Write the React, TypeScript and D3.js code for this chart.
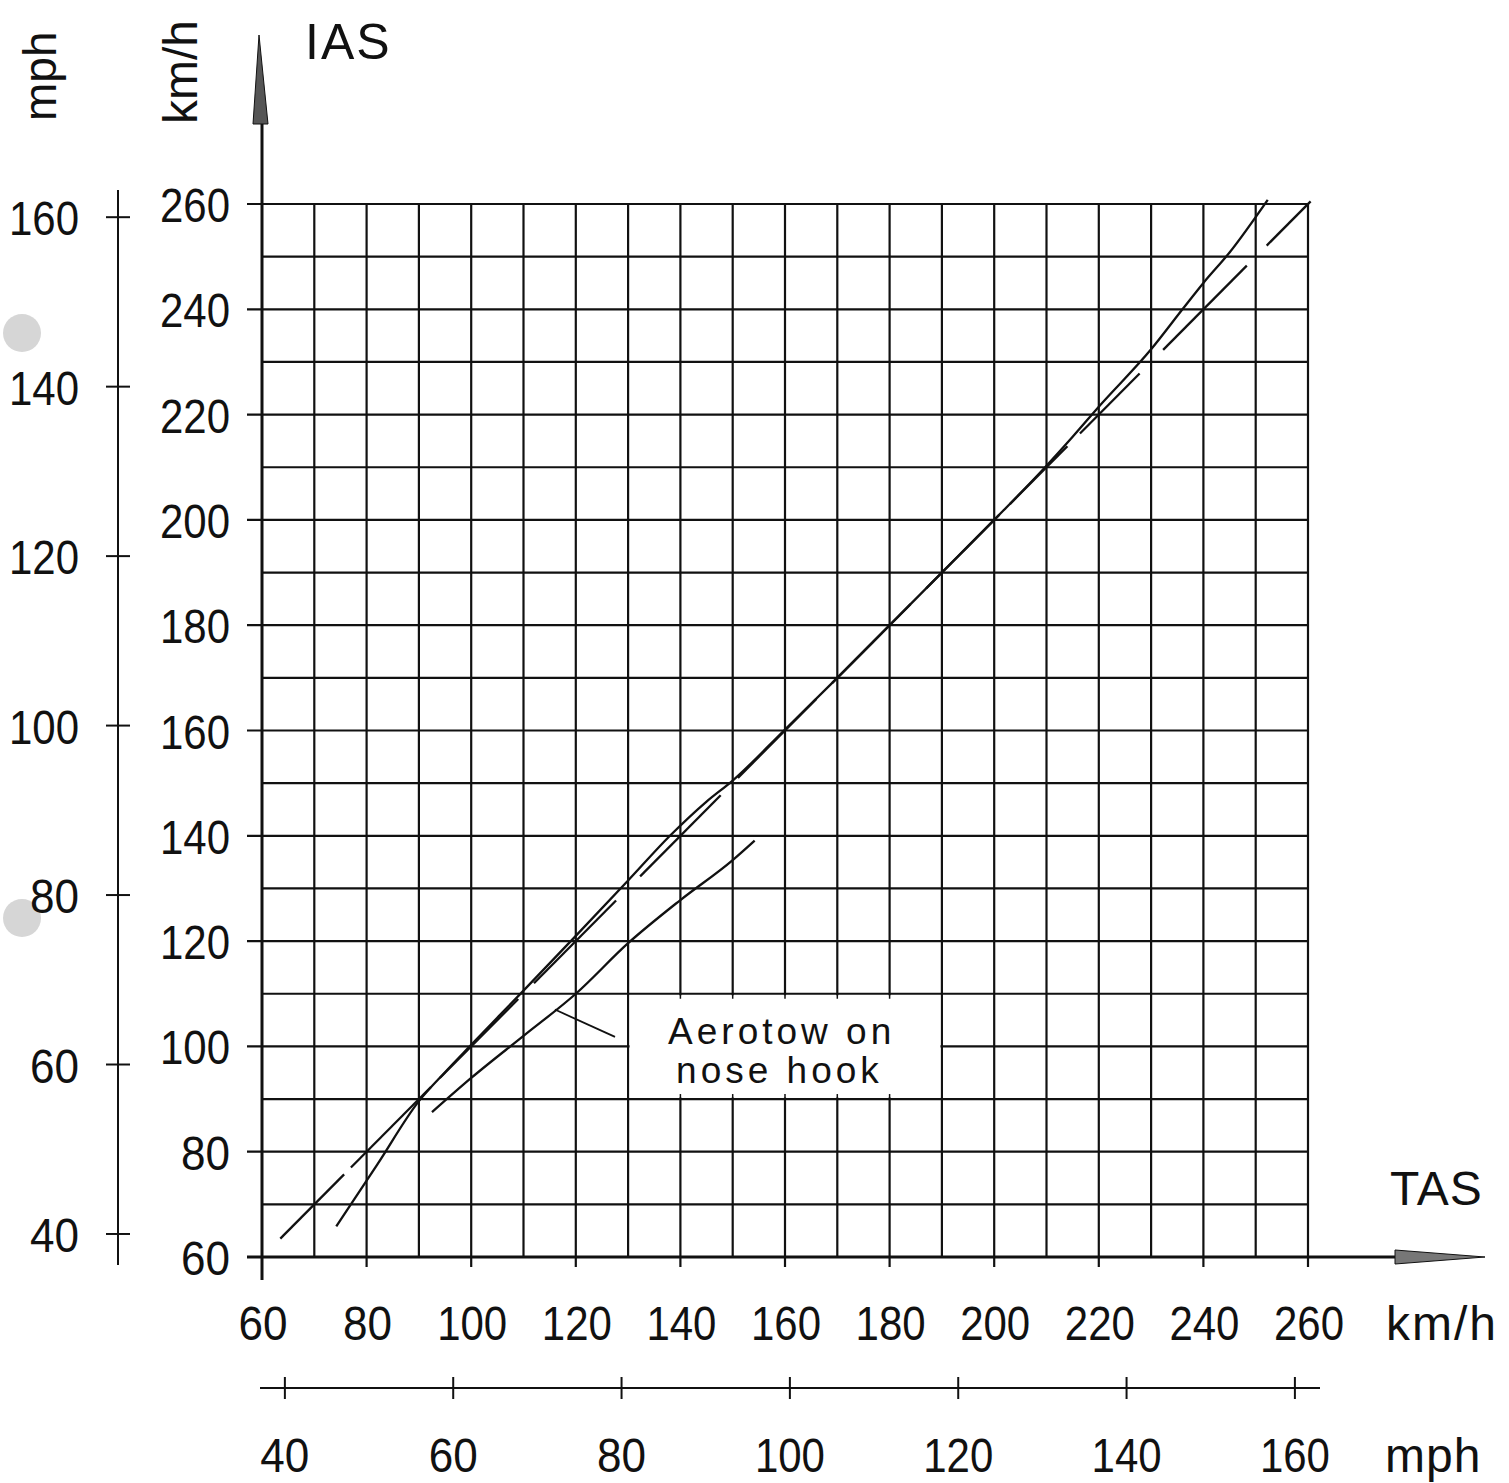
import * as d3 from 'd3';
import React from 'react';

// all speeds in km/h unless noted
const KMH_PER_MPH = 1.609344;
const gridValues = [60, 70, 80, 90, 100, 110, 120, 130, 140, 150, 160, 170, 180, 190, 200, 210, 220, 230, 240, 250, 260];
const kmhTicks = [60, 80, 100, 120, 140, 160, 180, 200, 220, 240, 260];
const mphTicks = [40, 60, 80, 100, 120, 140, 160];

// calibration curve [TAS, IAS]
const iasCurve: [number, number][] = [
  [74.2, 65.8], [82, 77.5], [90, 89.6], [95, 95.1],
  [100, 100.3], [110, 110.6], [120, 121], [130, 131.5], [138, 140], [145, 146.5],
  [150, 150.5], [160, 160.2], [170, 170], [180, 180], [190, 190], [200, 200],
  [210, 210.3], [215, 215.8], [220, 221.5], [230, 232.4], [236, 240], [240, 245],
  [245, 250.8], [252.3, 260.8],
];

// aerotow on nose hook [TAS, IAS]
const aerotowCurve: [number, number][] = [
  [92.5, 87.5], [100, 94], [110, 102], [120, 110], [130, 119.6], [140, 127.8],
  [150, 135.4], [154.2, 139.1],
];

// dashed IAS = TAS reference, strokes given as TAS from/to
const refDashes: [number, number][] = [
  [63.5, 75.7], [77, 92.3], [94, 109], [112, 127.7], [132.3, 147.7], [151, 166],
  [169, 184], [187, 201], [203, 214], [216.4, 227.8], [232.3, 248.3], [252.1, 260.5],
];

const leaderLine: [number, number][] = [[116, 107], [127.5, 101.8]];
const boxTas = [130, 190];
const boxIas = [90, 110];
const labelLines = ['Aerotow on', 'nose hook'];

const W = 1509;
const H = 1483;
const font = '"Liberation Sans", Arial, sans-serif';
const ink = '#111';

// digits in the drawing are narrow, squeeze them to the measured width
const numWidth = (v: number) => (String(v).length === 3 ? 70 : 49);

export default function App() {
  const x = d3.scaleLinear().domain([60, 260]).range([262, 1308]);
  const y = d3.scaleLinear().domain([60, 260]).range([1257, 204]);
  const xMph = d3.scaleLinear().domain([60 / KMH_PER_MPH, 260 / KMH_PER_MPH]).range(x.range());
  const yMph = d3.scaleLinear().domain([60 / KMH_PER_MPH, 260 / KMH_PER_MPH]).range(y.range());

  const line = d3.line<[number, number]>()
    .x(d => x(d[0]))
    .y(d => y(d[1]))
    .curve(d3.curveMonotoneX);
  const straight = d3.line<[number, number]>().x(d => x(d[0])).y(d => y(d[1]));

  const x0 = x(60);
  const y0 = y(60);
  const isMajor = (v: number) => v % 20 === 0;

  const num = (key: string, v: number, px: number, py: number, anchor: 'end' | 'middle') => (
    <text key={key} x={px} y={py} textAnchor={anchor}
      textLength={numWidth(v)} lengthAdjust="spacingAndGlyphs">{v}</text>
  );

  return (
    <svg width={W} height={H} style={{ position: 'absolute', left: 0, top: 0, background: '#fff', overflow: 'hidden' }}>
      <rect width={W} height={H} fill="#fff" />

      {/* scan specks on the left margin */}
      <circle cx={22} cy={333} r={19} fill="#d6d6d6" />
      <circle cx={22} cy={918} r={19} fill="#d6d6d6" />

      {/* grid */}
      <g stroke={ink} strokeWidth={2.2}>
        {gridValues.filter(v => v !== 60).map(v => (
          <line key={'v' + v} x1={x(v)} x2={x(v)} y1={y(260)} y2={isMajor(v) ? y0 + 10 : y0} />
        ))}
        {gridValues.filter(v => v !== 60).map(v => (
          <line key={'h' + v} x1={isMajor(v) ? x0 - 15 : x0} x2={x(260)} y1={y(v)} y2={y(v)} />
        ))}
      </g>

      {/* white label box over the grid */}
      <rect x={x(boxTas[0]) + 1.5} y={y(boxIas[1]) + 1.5}
        width={x(boxTas[1]) - x(boxTas[0]) - 3} height={y(boxIas[0]) - y(boxIas[1]) - 3} fill="#fff" />
      <g stroke={ink} strokeWidth={1.5}>
        {gridValues.filter(v => v > boxTas[0] && v < boxTas[1]).map(v => (
          <g key={'s' + v}>
            <line x1={x(v)} x2={x(v)} y1={y(boxIas[1])} y2={y(boxIas[1]) + 5} />
            <line x1={x(v)} x2={x(v)} y1={y(boxIas[0]) - 5} y2={y(boxIas[0])} />
          </g>
        ))}
      </g>
      <g fontFamily={font} fontSize={37} fill={ink} letterSpacing={4}>
        <text x={x(boxTas[0]) + 40} y={y(boxIas[1]) + 50}>{labelLines[0]}</text>
        <text x={x(boxTas[0]) + 48} y={y(boxIas[1]) + 89}>{labelLines[1]}</text>
      </g>

      {/* axes with arrows */}
      <g stroke={ink} strokeWidth={3}>
        <line x1={x0} x2={x0} y1={1280} y2={120} />
        <line x1={x0 - 15} x2={1400} y1={y0} y2={y0} />
      </g>
      <polygon points={`${x0 - 3},35 ${x0 - 9},124 ${x0 + 6},124`} fill="#555" stroke={ink} strokeWidth={1} />
      <polygon points={`1395,${y0 - 7} 1395,${y0 + 7} 1485,${y0}`} fill="#777" stroke={ink} strokeWidth={1} />

      {/* curves */}
      <g fill="none" stroke={ink} strokeWidth={2.3}>
        <path d={line(iasCurve) || ''} />
        <path d={line(aerotowCurve) || ''} />
        {refDashes.map((d, i) => (
          <path key={'d' + i} d={straight([[d[0], d[0]], [d[1], d[1]]]) || ''} />
        ))}
        <path d={straight(leaderLine) || ''} strokeWidth={1.8} />
      </g>

      {/* km/h tick labels */}
      <g fontFamily={font} fontSize={48} fill={ink}>
        {kmhTicks.map(v => num('yl' + v, v, 230, y(v) + 18, 'end'))}
        {kmhTicks.map(v => num('xl' + v, v, x(v) + 1, 1340, 'middle'))}
      </g>

      {/* mph scale on the left */}
      <g stroke={ink} strokeWidth={2}>
        <line x1={118} x2={118} y1={190} y2={1265} />
        {mphTicks.map(v => (
          <line key={'mt' + v} x1={106} x2={130} y1={yMph(v)} y2={yMph(v)} />
        ))}
      </g>
      <g fontFamily={font} fontSize={48} fill={ink}>
        {mphTicks.map(v => num('ml' + v, v, 79, yMph(v) + 18, 'end'))}
      </g>

      {/* mph scale at the bottom */}
      <g stroke={ink} strokeWidth={2}>
        <line x1={260} x2={1320} y1={1388} y2={1388} />
        {mphTicks.map(v => (
          <line key={'bt' + v} x1={xMph(v)} x2={xMph(v)} y1={1377} y2={1399} />
        ))}
      </g>
      <g fontFamily={font} fontSize={48} fill={ink}>
        {mphTicks.map(v => num('bl' + v, v, xMph(v), 1472, 'middle'))}
      </g>

      {/* axis titles and units */}
      <g fontFamily={font} fill={ink}>
        <text x={305} y={59} fontSize={50} letterSpacing={2}>IAS</text>
        <text x={1390} y={1205} fontSize={48} letterSpacing={1}>TAS</text>
        <text x={1386} y={1340} fontSize={48} letterSpacing={2}>km/h</text>
        <text x={1385} y={1472} fontSize={48} letterSpacing={1}>mph</text>
        <text transform="translate(56,121) rotate(-90)" fontSize={46}>mph</text>
        <text transform="translate(197,124) rotate(-90)" fontSize={48}>km/h</text>
      </g>
    </svg>
  );
}
